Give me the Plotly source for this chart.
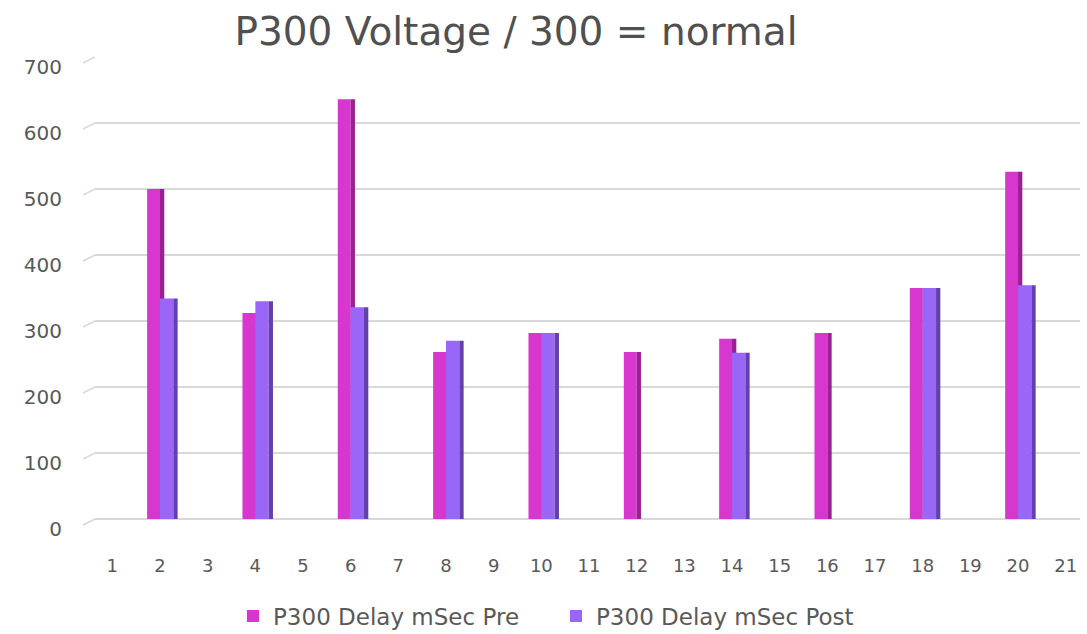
import plotly.graph_objects as go

categories = list(range(1, 22))
pre_values = [None, 500, None, 312, None, 636, None, 253, None, 282, None, 253, None, 273, None, 282, None, 350, None, 526, None]
post_values = [None, 334, None, 330, None, 321, None, 270, None, 282, None, None, None, 252, None, None, None, 350, None, 354, None]
series_names = ["P300 Delay mSec Pre", "P300 Delay mSec Post"]
y_ticks = [0, 100, 200, 300, 400, 500, 600, 700]

PRE = "#D837CF"
PRE_SIDE = "#9C1F95"
POST = "#9A66F7"
POST_SIDE = "#6440AE"
FONT = "DejaVu Sans"
Y_MAX = 701.5

fig = go.Figure()
fig.add_trace(go.Bar(x=categories, y=pre_values, name=series_names[0], marker=dict(color=PRE, line=dict(width=0)),
                     offset=-0.27, width=0.27))
fig.add_trace(go.Bar(x=categories, y=pre_values, showlegend=False, marker=dict(color=PRE_SIDE, line=dict(width=0)),
                     offset=0.0, width=0.09, hoverinfo="skip"))
fig.add_trace(go.Bar(x=categories, y=post_values, name=series_names[1], marker=dict(color=POST, line=dict(width=0)),
                     offset=0.0, width=0.28))
fig.add_trace(go.Bar(x=categories, y=post_values, showlegend=False, marker=dict(color=POST_SIDE, line=dict(width=0)),
                     offset=0.28, width=0.09, hoverinfo="skip"))

# small perspective stubs at the left end of each gridline
for v in y_ticks:
    fig.add_shape(type="line", xref="paper", yref="paper", x0=-12 / 985, x1=0,
                  y0=v / Y_MAX - 6 / 463, y1=v / Y_MAX, line=dict(color="#D9D9D9", width=1.5))

fig.update_layout(
    width=1087, height=634,
    barmode="overlay",
    paper_bgcolor="white", plot_bgcolor="white",
    margin=dict(l=95, r=7, t=56, b=115, autoexpand=False),
    title=dict(text="P300 Voltage / 300 = normal", x=516 / 1087, xanchor="center", xref="container",
               y=1 - 31 / 634, yanchor="middle", yref="container",
               font=dict(family=FONT, size=39, color="#505050")),
    font=dict(family=FONT, color="#595959"),
    showlegend=True,
    legend=dict(orientation="h", x=233 / 1087, xanchor="left", xref="container",
                y=1 - 616 / 634, yanchor="middle", yref="container",
                font=dict(family=FONT, size=23, color="#595959"), traceorder="normal",
                entrywidth=278, entrywidthmode="pixels"),
    xaxis=dict(range=[0.6365, 21.30], tickmode="array", tickvals=categories, ticktext=[str(c) for c in categories],
               showgrid=False, zeroline=False, showline=False, ticks="outside", ticklen=30,
               tickcolor="rgba(0,0,0,0)", tickfont=dict(family=FONT, size=18, color="#595959"), automargin=False),
    yaxis=dict(range=[0, Y_MAX], tickmode="array", tickvals=y_ticks, showgrid=True, gridcolor="#D9D9D9",
               gridwidth=1.5, zeroline=True, zerolinecolor="#D9D9D9", zerolinewidth=1.5, showline=False,
               ticks="outside", ticklen=28, tickcolor="rgba(0,0,0,0)", ticklabelshift=10,
               tickfont=dict(family=FONT, size=20, color="#595959"), automargin=False),
)

fig.write_html("out.html", post_script="document.body.style.margin='0';",
               config={"displayModeBar": False})
